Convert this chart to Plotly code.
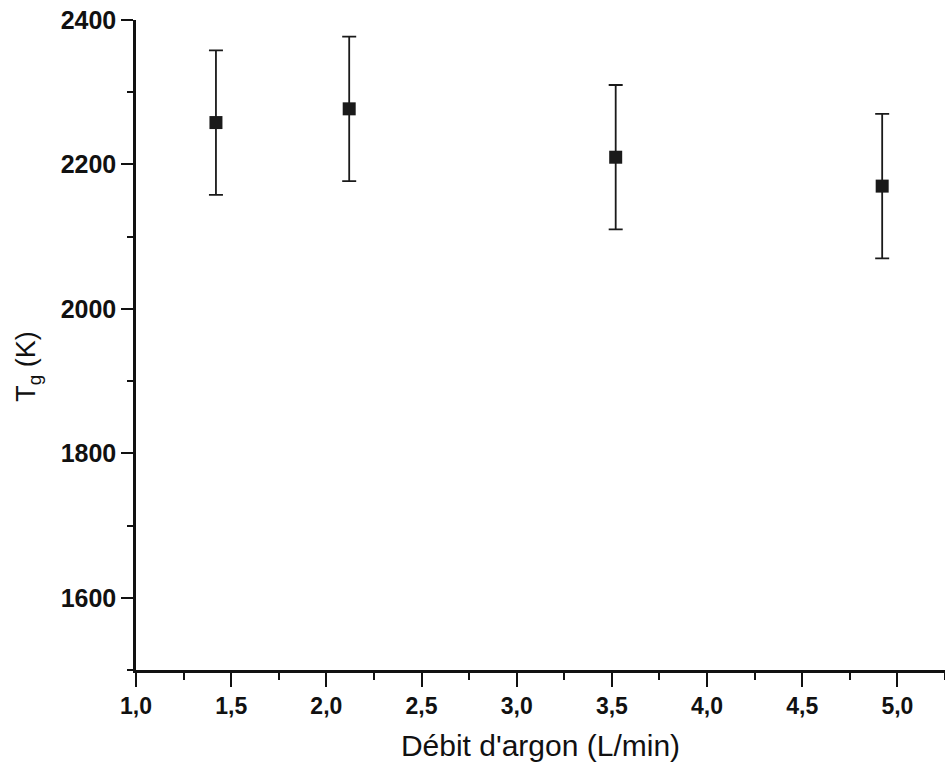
import plotly.graph_objects as go

debit = [1.42, 2.12, 3.52, 4.92]
tg = [2258, 2277, 2210, 2170]
err = [100, 100, 100, 100]
y_ticks = [1600, 1800, 2000, 2200, 2400]
x_ticks = [1.0, 1.5, 2.0, 2.5, 3.0, 3.5, 4.0, 4.5, 5.0]

fig = go.Figure()
fig.add_trace(go.Scatter(
    x=debit, y=tg, mode="markers",
    marker=dict(symbol="square", size=13, color="#1a1a1a"),
    error_y=dict(type="data", array=err, visible=True, color="#1a1a1a", thickness=1.8, width=7),
    showlegend=False,
))

fnt = "Liberation Sans, Arial, sans-serif"
fig.update_layout(
    width=945, height=772,
    margin=dict(l=136, r=0, t=20, b=102),
    paper_bgcolor="white", plot_bgcolor="white",
    separators=", ",
    font=dict(family=fnt, color="#111111"),
    xaxis=dict(
        range=[1.0, 5.25], tickvals=x_ticks, tickformat=".1f",
        showgrid=False, zeroline=False, showline=True, linecolor="#111111", linewidth=2.5,
        ticks="outside", ticklen=14, tickwidth=2, tickcolor="#111111",
        minor=dict(dtick=0.25, tick0=1.0, ticks="outside", ticklen=7, tickwidth=2, tickcolor="#111111"),
        tickfont=dict(size=23, family=fnt, weight="bold"),
        title=dict(text="Débit d'argon (L/min)", font=dict(size=30, family=fnt), standoff=17),
    ),
    yaxis=dict(
        range=[1500, 2400], tickvals=y_ticks,
        showgrid=False, zeroline=False, showline=True, linecolor="#111111", linewidth=2.5,
        ticks="outside", ticklen=12, tickwidth=2, tickcolor="#111111",
        minor=dict(dtick=100, tick0=1500, ticks="outside", ticklen=6, tickwidth=2, tickcolor="#111111"),
        tickfont=dict(size=25, family=fnt, weight="bold"),
    ),
    annotations=[dict(
        text="T<sub>g</sub> (K)", textangle=-90, showarrow=False,
        xref="paper", yref="paper", x=-0.1335, y=0.468,
        xanchor="center", yanchor="middle",
        font=dict(size=27, family=fnt, color="#111111"),
    )],
)
fig.write_html("out.html")
